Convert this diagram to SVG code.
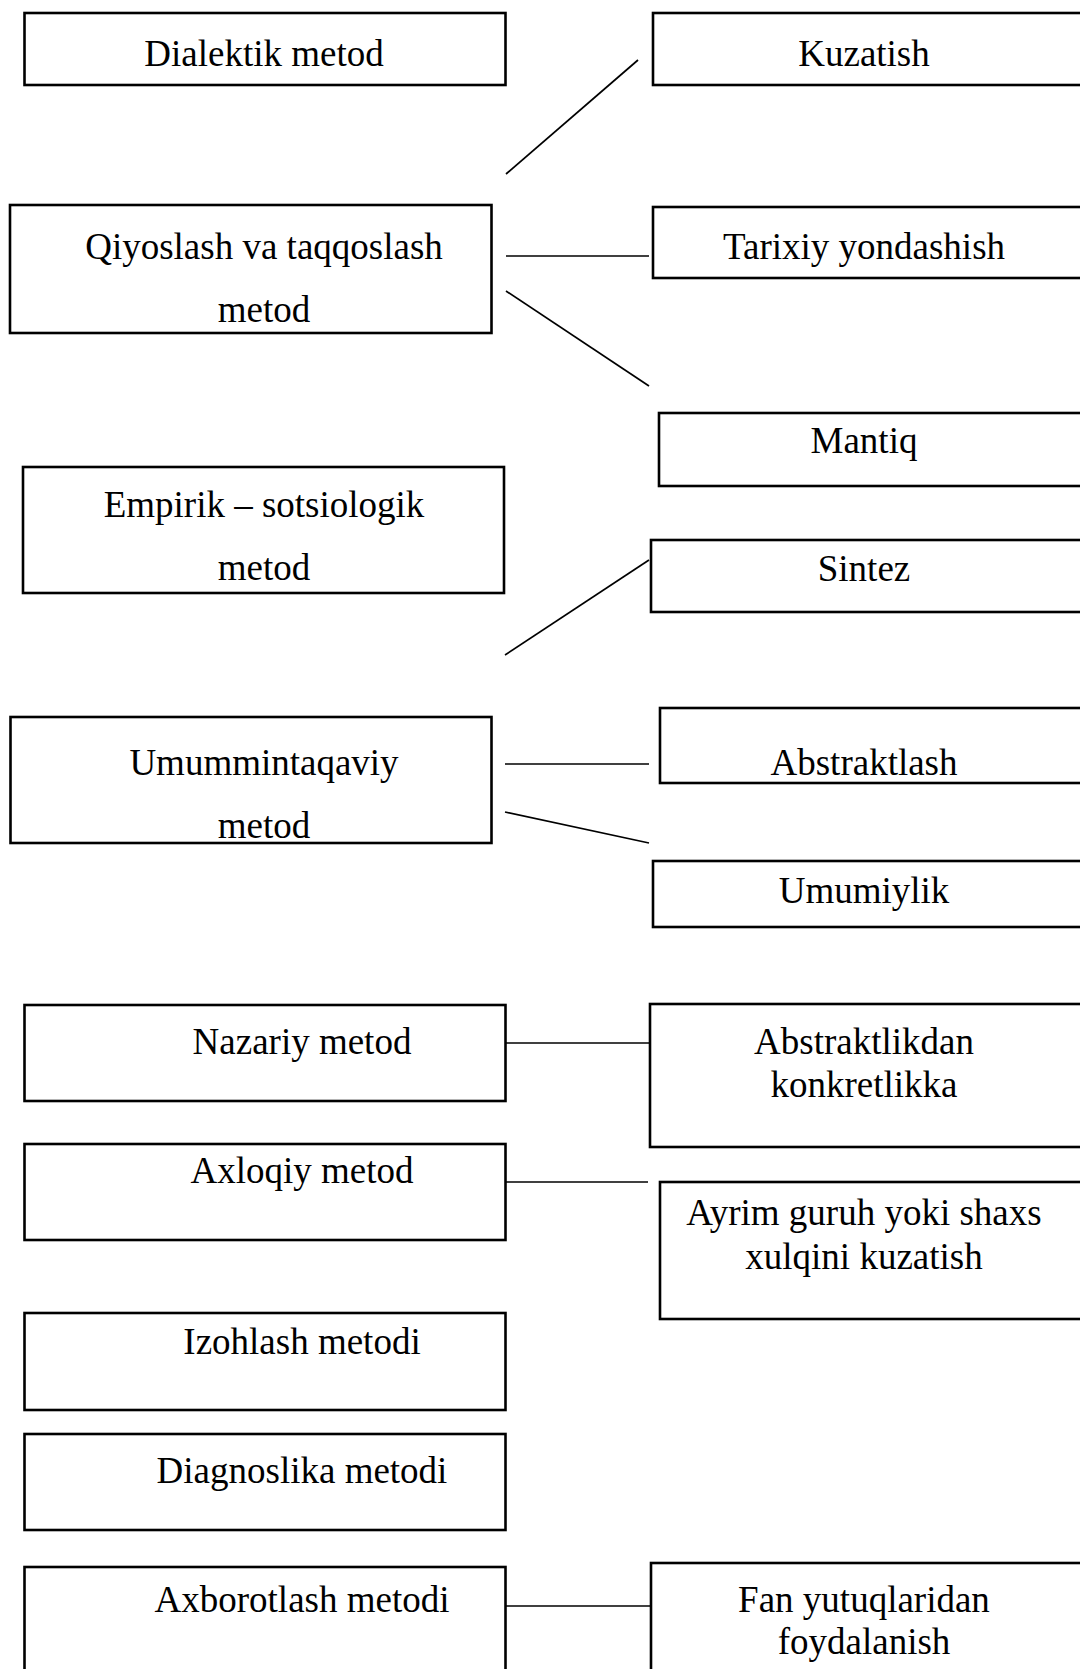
<svg xmlns="http://www.w3.org/2000/svg" width="1080" height="1669" viewBox="0 0 1080 1669">
<style>
.box{fill:#fff;stroke:#000;stroke-width:2.6}
.t{font-family:"Liberation Serif","Times New Roman",serif;font-size:37px;fill:#000;text-anchor:middle}
.c{stroke:#000;stroke-width:1.7;fill:none}
</style>
<rect x="0" y="0" width="1080" height="1669" fill="#fff"/>
<g id="connectors">
<line class="c" x1="506" y1="174" x2="638" y2="60"/>
<line class="c" x1="506" y1="256" x2="649" y2="256"/>
<line class="c" x1="506" y1="291" x2="649" y2="386"/>
<line class="c" x1="505" y1="655" x2="649" y2="560"/>
<line class="c" x1="505" y1="764" x2="649" y2="764"/>
<line class="c" x1="505" y1="812" x2="649" y2="843"/>
<line class="c" x1="505" y1="1043" x2="650" y2="1043"/>
<line class="c" x1="505" y1="1182" x2="648" y2="1182"/>
<line class="c" x1="505" y1="1606" x2="650" y2="1606"/>
</g>
<g id="n-dialektik"><rect class="box" x="24.5" y="13" width="481" height="72"/><text class="t" x="264" y="66">Dialektik metod</text></g>
<g id="n-kuzatish"><rect class="box" x="653" y="13" width="440" height="72"/><text class="t" x="864" y="66">Kuzatish</text></g>
<g id="n-qiyoslash"><rect class="box" x="10" y="205" width="481.5" height="128"/><text class="t" x="264" y="259">Qiyoslash va taqqoslash</text><text class="t" x="264" y="322">metod</text></g>
<g id="n-tarixiy"><rect class="box" x="653" y="207" width="440" height="71"/><text class="t" x="864" y="259">Tarixiy yondashish</text></g>
<g id="n-mantiq"><rect class="box" x="659" y="413" width="434" height="73"/><text class="t" x="864" y="453">Mantiq</text></g>
<g id="n-empirik"><rect class="box" x="23" y="467" width="481" height="126"/><text class="t" x="264" y="517">Empirik – sotsiologik</text><text class="t" x="264" y="580">metod</text></g>
<g id="n-sintez"><rect class="box" x="651" y="540" width="442" height="72"/><text class="t" x="864" y="581">Sintez</text></g>
<g id="n-umummintaqaviy"><rect class="box" x="10.5" y="717" width="481" height="126"/><text class="t" x="264" y="775">Umummintaqaviy</text><text class="t" x="264" y="838">metod</text></g>
<g id="n-abstraktlash"><rect class="box" x="660" y="708" width="433" height="75"/><text class="t" x="864" y="775">Abstraktlash</text></g>
<g id="n-umumiylik"><rect class="box" x="653" y="861" width="440" height="66"/><text class="t" x="864" y="903">Umumiylik</text></g>
<g id="n-nazariy"><rect class="box" x="24.5" y="1005" width="481" height="96"/><text class="t" x="302" y="1054">Nazariy metod</text></g>
<g id="n-abstraktlikdan"><rect class="box" x="650" y="1004" width="443" height="143"/><text class="t" x="864" y="1054">Abstraktlikdan</text><text class="t" x="864" y="1097">konkretlikka</text></g>
<g id="n-axloqiy"><rect class="box" x="24.5" y="1144" width="481" height="96"/><text class="t" x="302" y="1183">Axloqiy metod</text></g>
<g id="n-ayrim"><rect class="box" x="660" y="1182" width="433" height="137"/><text class="t" x="864" y="1225">Ayrim guruh yoki shaxs</text><text class="t" x="864" y="1269">xulqini kuzatish</text></g>
<g id="n-izohlash"><rect class="box" x="24.5" y="1313" width="481" height="97"/><text class="t" x="302" y="1354">Izohlash metodi</text></g>
<g id="n-diagnoslika"><rect class="box" x="24.5" y="1434" width="481" height="96"/><text class="t" x="302" y="1483">Diagnoslika metodi</text></g>
<g id="n-axborotlash"><rect class="box" x="24.5" y="1567" width="481" height="120"/><text class="t" x="302" y="1612">Axborotlash metodi</text></g>
<g id="n-fan"><rect class="box" x="651" y="1563" width="442" height="124"/><text class="t" x="864" y="1612">Fan yutuqlaridan</text><text class="t" x="864" y="1654">foydalanish</text></g>
</svg>
